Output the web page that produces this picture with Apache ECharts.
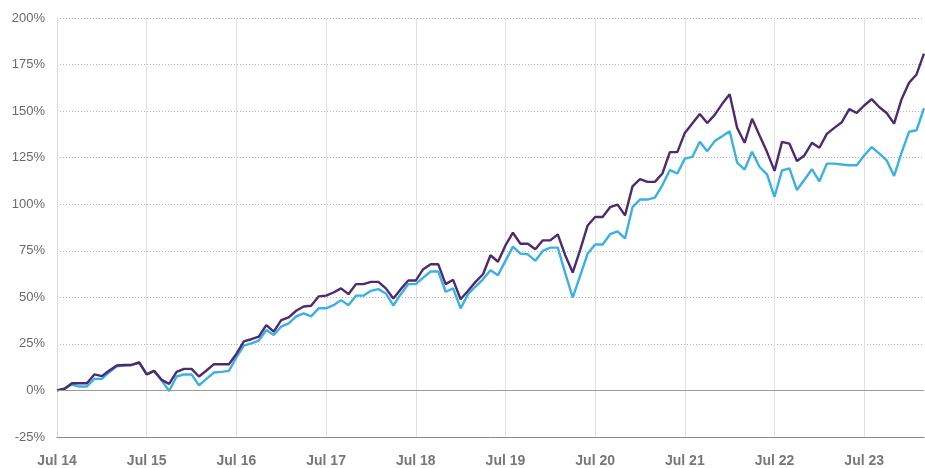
<!doctype html>
<html>
<head>
    <meta charset="utf-8">
    <title>Cumulative return</title>
    <script src="https://cdn.jsdelivr.net/npm/echarts@6/dist/echarts.min.js"></script>
    <style>
        body{
            margin:0;
            padding:0;
            background:#fff;
        }
        #chart{
            width:925px;
            height:468px;
        }
    </style>
</head>
<body>
<div id="chart"></div>
<script>
    // monthly points, Jul 14 .. Mar 24
    var monthNames = ['Jul','Aug','Sep','Oct','Nov','Dec','Jan','Feb','Mar','Apr','May','Jun'];
    var startYear = 14;
    var pointCount = 117;

    // purple line (%)
    var purpleSeries = [
        0, 0.9, 3.9, 3.9, 3.9, 8.6, 7.7, 10.7, 13.4, 13.7, 13.7, 15.0,
        8.6, 10.5, 5.7, 3.5, 10.0, 11.6, 11.6, 7.5, 10.7, 14.1, 14.1, 14.1,
        19.6, 26.3, 27.5, 28.9, 35.1, 31.6, 37.8, 39.2, 42.8, 45.1, 45.5, 50.5,
        50.9, 52.6, 54.8, 51.7, 57.1, 57.1, 58.3, 58.3, 54.8, 49.4, 54.4, 59.0,
        59.0, 65.1, 67.8, 67.8, 57.1, 59.4, 49.0, 53.5, 58.3, 62.4, 72.6, 69.1,
        77.9, 84.7, 78.8, 78.8, 75.8, 80.6, 80.6, 83.8, 72.6, 63.3, 75.5, 88.6,
        93.1, 93.1, 98.4, 99.8, 94.0, 109.6, 113.5, 112.0, 112.0, 116.5, 128.0, 128.0,
        138.3, 143.4, 148.4, 143.6, 148.0, 153.9, 159.1, 141.0, 133.0, 145.9, 136.9, 128.0,
        117.9, 133.5, 132.5, 123.2, 126.2, 133.0, 130.3, 137.8, 141.0, 144.0, 151.1, 149.0,
        153.0, 156.4, 152.2, 149.0, 143.3, 156.4, 165.2, 169.7, 180.9
    ];

    // blue line (%)
    var blueSeries = [
        0, 0.9, 3.2, 2.1, 2.1, 6.2, 6.2, 9.8, 13.0, 13.4, 13.7, 15.0,
        8.6, 10.5, 5.4, -0.3, 7.5, 8.6, 8.6, 2.7, 6.2, 9.6, 10.0, 10.5,
        17.8, 24.1, 25.3, 26.8, 32.4, 29.8, 34.3, 36.0, 39.8, 41.4, 39.8, 44.1,
        44.1, 45.8, 48.5, 45.8, 50.9, 50.9, 53.5, 54.4, 52.1, 45.5, 51.7, 57.1,
        57.1, 60.6, 63.9, 63.9, 53.0, 54.8, 44.1, 51.7, 55.8, 59.7, 64.6, 61.9,
        69.6, 77.2, 73.5, 73.1, 69.6, 74.9, 76.7, 76.7, 63.0, 49.9, 61.6, 73.5,
        78.4, 78.4, 83.9, 85.4, 81.6, 98.4, 102.5, 102.5, 103.5, 110.3, 118.3, 116.5,
        124.5, 125.4, 133.5, 128.5, 133.9, 136.5, 139.2, 122.4, 118.6, 128.2, 120.0, 116.0,
        104.0, 118.1, 119.3, 107.6, 113.1, 118.8, 112.3, 121.8, 121.8, 121.3, 120.9, 120.9,
        126.2, 130.7, 127.3, 123.6, 115.2, 127.7, 138.9, 139.7, 151.6
    ];

    var yMin = -25, yMax = 200, yStep = 25;

    var months = [];
    for (var i = 0; i < pointCount; i++) {
        var yr = startYear + Math.floor((i + 6) / 12);
        months.push(monthNames[i % 12] + ' ' + yr);
    }

    function isJuly(idx){
        return idx % 12 === 0;
    }

    var myChart = echarts.init(document.getElementById('chart'));
    var option = {
        animation: false,
        textStyle: {
            fontFamily: 'Liberation Sans, Arial, sans-serif'
        },
        grid: {
            left: 57,
            right: 1,
            top: 18,
            bottom: 27,
            containLabel: false
        },
        xAxis: {
            type: 'category',
            data: months,
            boundaryGap: false,
            axisLine: {
                onZero: false,
                lineStyle: { color: '#8a8a8a', width: 1 }
            },
            axisTick: { show: false },
            axisLabel: {
                interval: function(idx){ return isJuly(idx); },
                color: '#777',
                fontWeight: 'bold',
                fontSize: 14,
                margin: 17
            },
            splitLine: {
                show: true,
                interval: function(idx){ return isJuly(idx) && idx > 0; },
                lineStyle: { color: '#e2e2e2', width: 1 }
            }
        },
        yAxis: {
            type: 'value',
            min: yMin,
            max: yMax,
            interval: yStep,
            axisLine: {
                show: true,
                lineStyle: { color: '#d9d9d9' }
            },
            axisTick: { show: false },
            axisLabel: {
                formatter: '{value}%',
                color: '#6a6a6a',
                fontSize: 13,
                margin: 12
            },
            splitLine: {
                show: true,
                lineStyle: { color: '#b5b5b5', type: [1, 2], width: 1 }
            }
        },
        series: [
            {
                name: 'blue',
                type: 'line',
                data: blueSeries,
                symbol: 'none',
                lineStyle: { color: '#3bb0e4', width: 2.4 },
                itemStyle: { color: '#3bb0e4' },
                markLine: {
                    silent: true,
                    symbol: 'none',
                    label: { show: false },
                    lineStyle: { color: '#9a9a9a', type: 'solid', width: 1 },
                    data: [{ yAxis: 0 }]
                },
                z: 2
            },
            {
                name: 'purple',
                type: 'line',
                data: purpleSeries,
                symbol: 'none',
                lineStyle: { color: '#4e2a6e', width: 2.4 },
                itemStyle: { color: '#4e2a6e' },
                z: 3
            }
        ]
    };
    myChart.setOption(option, true);
</script>
</body>
</html>
